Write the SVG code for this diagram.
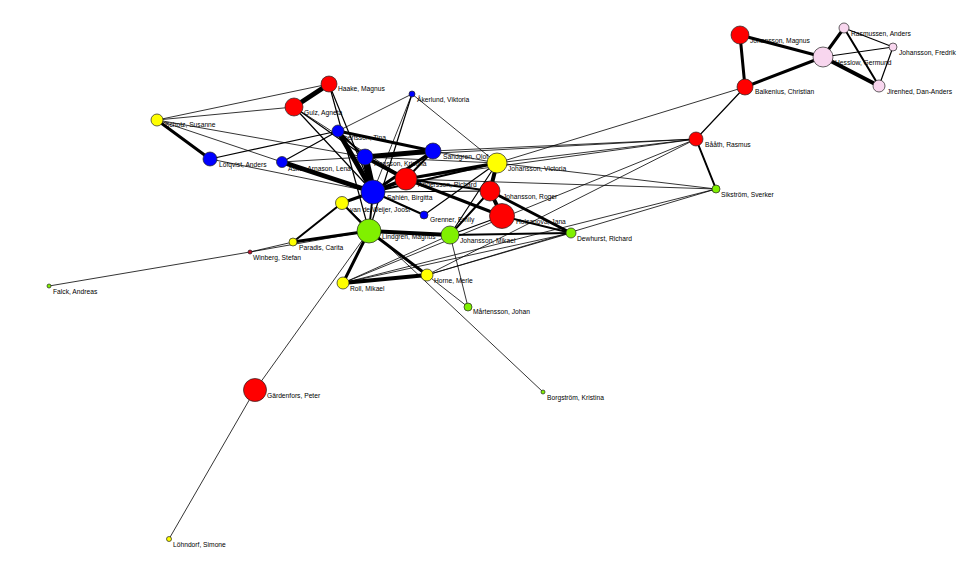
<svg xmlns="http://www.w3.org/2000/svg" width="975" height="568" viewBox="0 0 975 568">
<style>
.bg{fill:#fff}
line{stroke:#000;stroke-linecap:round}
.w0{stroke-width:0.8}.w1{stroke-width:1.2}.w2{stroke-width:2}.w3{stroke-width:3}.w4{stroke-width:4}.w5{stroke-width:5}.w7{stroke-width:7}
circle{stroke:#222;stroke-width:0.7}
.red{fill:#ff0000}.blue{fill:#0000ff}.yel{fill:#ffff00}.grn{fill:#80f000}.pink{fill:#f8d6ee}.dred{fill:#c0102a}
text{font-family:"Liberation Sans",Arial,sans-serif;font-size:6.7px;fill:#000}
</style>
<rect class="bg" x="0" y="0" width="975" height="568"/>
<g id="connectors">
<line class="w3" x1="740" y1="35" x2="745" y2="87"/>
<line class="w3" x1="740" y1="35" x2="823" y2="57"/>
<line class="w3" x1="745" y1="87" x2="823" y2="57"/>
<line class="w3" x1="823" y1="57" x2="844" y2="28"/>
<line class="w4" x1="823" y1="57" x2="879" y2="86"/>
<line class="w1" x1="823" y1="57" x2="893" y2="47"/>
<line class="w2" x1="844" y1="28" x2="879" y2="86"/>
<line class="w1" x1="844" y1="28" x2="893" y2="47"/>
<line class="w1" x1="893" y1="47" x2="879" y2="86"/>
<line class="w1" x1="745" y1="87" x2="696" y2="139"/>
<line class="w0" x1="745" y1="87" x2="497" y2="163"/>
<line class="w2" x1="696" y1="139" x2="716" y2="189"/>
<line class="w0" x1="696" y1="139" x2="497" y2="163"/>
<line class="w0" x1="696" y1="139" x2="433" y2="151"/>
<line class="w0" x1="696" y1="139" x2="406" y2="179"/>
<line class="w0" x1="696" y1="139" x2="365" y2="157"/>
<line class="w0" x1="696" y1="139" x2="427" y2="275"/>
<line class="w0" x1="696" y1="139" x2="343" y2="283"/>
<line class="w0" x1="716" y1="189" x2="497" y2="163"/>
<line class="w0" x1="716" y1="189" x2="406" y2="179"/>
<line class="w0" x1="716" y1="189" x2="343" y2="283"/>
<line class="w0" x1="716" y1="189" x2="427" y2="275"/>
<line class="w2" x1="571" y1="233" x2="502" y2="216"/>
<line class="w3" x1="571" y1="233" x2="490" y2="191"/>
<line class="w2" x1="571" y1="233" x2="450" y2="235"/>
<line class="w0" x1="571" y1="233" x2="343" y2="283"/>
<line class="w0" x1="571" y1="233" x2="427" y2="275"/>
<line class="w5" x1="329" y1="84" x2="294" y2="107"/>
<line class="w0" x1="329" y1="84" x2="157" y2="120"/>
<line class="w1" x1="329" y1="84" x2="373" y2="192"/>
<line class="w1" x1="329" y1="84" x2="369" y2="231"/>
<line class="w0" x1="294" y1="107" x2="157" y2="120"/>
<line class="w1" x1="294" y1="107" x2="365" y2="157"/>
<line class="w1" x1="294" y1="107" x2="373" y2="192"/>
<line class="w0" x1="294" y1="107" x2="406" y2="179"/>
<line class="w3" x1="157" y1="120" x2="210" y2="159"/>
<line class="w0" x1="157" y1="120" x2="365" y2="157"/>
<line class="w0" x1="157" y1="120" x2="282" y2="162"/>
<line class="w1" x1="210" y1="159" x2="338" y2="131"/>
<line class="w0" x1="210" y1="159" x2="373" y2="192"/>
<line class="w1" x1="282" y1="162" x2="338" y2="131"/>
<line class="w5" x1="282" y1="162" x2="373" y2="192"/>
<line class="w0" x1="282" y1="162" x2="365" y2="157"/>
<line class="w0" x1="412" y1="94" x2="338" y2="131"/>
<line class="w0" x1="412" y1="94" x2="373" y2="192"/>
<line class="w1" x1="412" y1="94" x2="369" y2="231"/>
<line class="w0" x1="412" y1="94" x2="497" y2="163"/>
<line class="w3" x1="338" y1="131" x2="433" y2="151"/>
<line class="w5" x1="338" y1="131" x2="373" y2="192"/>
<line class="w2" x1="338" y1="131" x2="365" y2="157"/>
<line class="w5" x1="365" y1="157" x2="433" y2="151"/>
<line class="w7" x1="365" y1="157" x2="373" y2="192"/>
<line class="w4" x1="365" y1="157" x2="406" y2="179"/>
<line class="w0" x1="365" y1="157" x2="497" y2="163"/>
<line class="w3" x1="433" y1="151" x2="373" y2="192"/>
<line class="w2" x1="433" y1="151" x2="406" y2="179"/>
<line class="w0" x1="433" y1="151" x2="497" y2="163"/>
<line class="w4" x1="406" y1="179" x2="373" y2="192"/>
<line class="w3" x1="406" y1="179" x2="497" y2="163"/>
<line class="w2" x1="406" y1="179" x2="490" y2="191"/>
<line class="w3" x1="406" y1="179" x2="502" y2="216"/>
<line class="w2" x1="373" y1="192" x2="497" y2="163"/>
<line class="w1" x1="373" y1="192" x2="490" y2="191"/>
<line class="w3" x1="373" y1="192" x2="342" y2="203"/>
<line class="w2" x1="373" y1="192" x2="424" y2="215"/>
<line class="w2" x1="373" y1="192" x2="369" y2="231"/>
<line class="w1" x1="424" y1="215" x2="497" y2="163"/>
<line class="w4" x1="497" y1="163" x2="490" y2="191"/>
<line class="w4" x1="490" y1="191" x2="502" y2="216"/>
<line class="w2" x1="450" y1="235" x2="490" y2="191"/>
<line class="w1" x1="450" y1="235" x2="497" y2="163"/>
<line class="w1" x1="450" y1="235" x2="502" y2="216"/>
<line class="w4" x1="450" y1="235" x2="369" y2="231"/>
<line class="w0" x1="450" y1="235" x2="468" y2="307"/>
<line class="w0" x1="450" y1="235" x2="343" y2="283"/>
<line class="w2" x1="369" y1="231" x2="342" y2="203"/>
<line class="w3" x1="369" y1="231" x2="293" y2="242"/>
<line class="w3" x1="369" y1="231" x2="343" y2="283"/>
<line class="w3" x1="369" y1="231" x2="427" y2="275"/>
<line class="w0" x1="369" y1="231" x2="255" y2="390"/>
<line class="w0" x1="369" y1="231" x2="250" y2="252"/>
<line class="w4" x1="343" y1="283" x2="427" y2="275"/>
<line class="w0" x1="427" y1="275" x2="468" y2="307"/>
<line class="w2" x1="342" y1="203" x2="293" y2="242"/>
<line class="w0" x1="342" y1="203" x2="543" y2="392"/>
<line class="w0" x1="293" y1="242" x2="250" y2="252"/>
<line class="w0" x1="250" y1="252" x2="49" y2="286"/>
<line class="w0" x1="255" y1="390" x2="169" y2="539"/>
</g>
<g id="n-sandgren"><circle class="blue" cx="433" cy="151" r="8"/><text x="443" y="159">Sandgren, Olof</text></g>
<g id="n-johansson-magnus"><circle class="red" cx="740" cy="35" r="9"/><text x="750" y="42.5">Johansson, Magnus</text></g>
<g id="n-balkenius"><circle class="red" cx="745" cy="87" r="8"/><text x="755" y="93.5">Balkenius, Christian</text></g>
<g id="n-hesslow"><circle class="pink" cx="823" cy="57" r="10"/><text x="835" y="64.5">Hesslow, Germund</text></g>
<g id="n-rasmussen"><circle class="pink" cx="844" cy="28" r="5"/><text x="851" y="35.5">Rasmussen, Anders</text></g>
<g id="n-johansson-fredrik"><circle class="pink" cx="893" cy="47" r="4"/><text x="899" y="54.5">Johansson, Fredrik</text></g>
<g id="n-jirenhed"><circle class="pink" cx="879" cy="86" r="6"/><text x="887" y="93.5">Jirenhed, Dan-Anders</text></g>
<g id="n-haake"><circle class="red" cx="329" cy="84" r="8"/><text x="338" y="90.5">Haake, Magnus</text></g>
<g id="n-gulz"><circle class="red" cx="294" cy="107" r="9"/><text x="304" y="114.5">Gulz, Agneta</text></g>
<g id="n-akerlund"><circle class="blue" cx="412" cy="94" r="3"/><text x="417" y="101.5">Åkerlund, Viktoria</text></g>
<g id="n-schotz"><circle class="yel" cx="157" cy="120" r="6"/><text x="165" y="127">Schotz, Susanne</text></g>
<g id="n-tina"><circle class="blue" cx="338" cy="131" r="6"/><text x="344" y="139.5">bertsson, Tina</text></g>
<g id="n-lofqvist"><circle class="blue" cx="210" cy="159" r="7"/><text x="219" y="167">Löfqvist, Anders</text></g>
<g id="n-asker"><circle class="blue" cx="282" cy="162" r="5.5"/><text x="288" y="170.5">Asker-Arnason, Lena</text></g>
<g id="n-hansson"><circle class="blue" cx="365" cy="157" r="8"/><text x="374" y="165.5">Hansson, Kristina</text></g>
<g id="n-johansson-victoria"><circle class="yel" cx="497" cy="163" r="10"/><text x="508" y="171">Johansson, Victoria</text></g>
<g id="n-andersson"><circle class="red" cx="406" cy="179" r="11"/><text x="418" y="187">Andersson, Richard</text></g>
<g id="n-sahlen"><circle class="blue" cx="373" cy="192" r="12"/><text x="387" y="200">Sahlén, Birgitta</text></g>
<g id="n-johansson-roger"><circle class="red" cx="490" cy="191" r="10"/><text x="503" y="199">Johansson, Roger</text></g>
<g id="n-vandeweijer"><circle class="yel" cx="342" cy="203" r="6.5"/><text x="350" y="212">van de Weijer, Joost</text></g>
<g id="n-grenner"><circle class="blue" cx="424" cy="215" r="4"/><text x="430" y="222">Grenner, Emily</text></g>
<g id="n-holsanova"><circle class="red" cx="502" cy="216" r="12.5"/><text x="516" y="224">Holsanova, Jana</text></g>
<g id="n-lindgren"><circle class="grn" cx="369" cy="231" r="12"/><text x="382" y="239">Lindgren, Magnus</text></g>
<g id="n-johansson-mikael"><circle class="grn" cx="450" cy="235" r="9"/><text x="460" y="243">Johansson, Mikael</text></g>
<g id="n-dewhurst"><circle class="grn" cx="571" cy="233" r="5"/><text x="577" y="241">Dewhurst, Richard</text></g>
<g id="n-paradis"><circle class="yel" cx="293" cy="242" r="4"/><text x="299" y="249.5">Paradis, Carita</text></g>
<g id="n-winberg"><circle class="dred" cx="250" cy="252" r="2"/><text x="253" y="259.5">Winberg, Stefan</text></g>
<g id="n-falck"><circle class="grn" cx="49" cy="286" r="2"/><text x="53" y="293.5">Falck, Andreas</text></g>
<g id="n-horne"><circle class="yel" cx="427" cy="275" r="6"/><text x="434" y="283">Horne, Merle</text></g>
<g id="n-roll"><circle class="yel" cx="343" cy="283" r="6"/><text x="350" y="290.5">Roll, Mikael</text></g>
<g id="n-martensson"><circle class="grn" cx="468" cy="307" r="4"/><text x="473" y="314">Mårtensson, Johan</text></g>
<g id="n-gardenfors"><circle class="red" cx="255" cy="390" r="11.5"/><text x="267" y="397.5">Gärdenfors, Peter</text></g>
<g id="n-borgstrom"><circle class="grn" cx="543" cy="392" r="2"/><text x="547" y="399.5">Borgström, Kristina</text></g>
<g id="n-lohndorf"><circle class="yel" cx="169" cy="539" r="2.5"/><text x="173" y="546.5">Löhndorf, Simone</text></g>
<g id="n-baath"><circle class="red" cx="696" cy="139" r="7"/><text x="705" y="146.5">Bååth, Rasmus</text></g>
<g id="n-sikstrom"><circle class="grn" cx="716" cy="189" r="4"/><text x="721" y="196.5">Sikström, Sverker</text></g>
</svg>
